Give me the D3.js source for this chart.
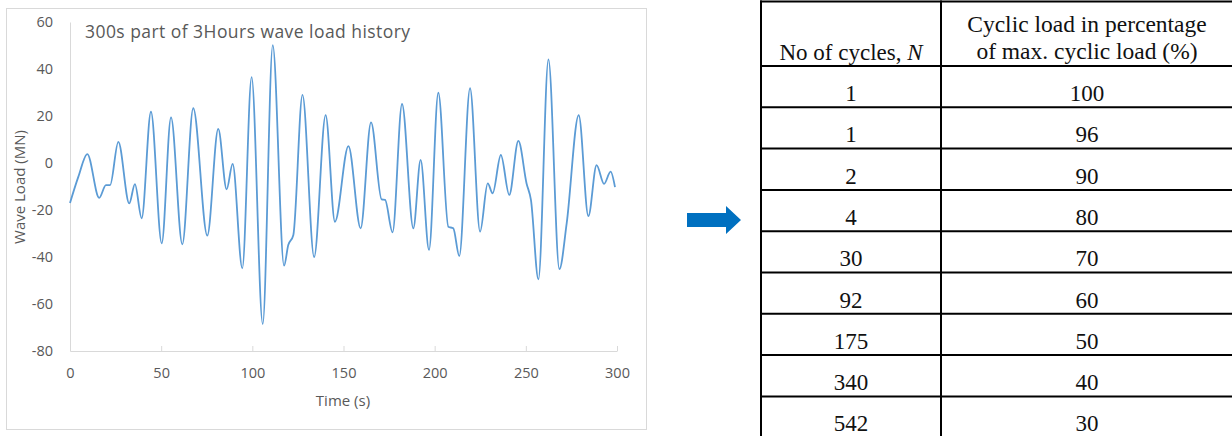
<!DOCTYPE html>
<html>
<head>
<meta charset="utf-8">
<script src="https://cdn.jsdelivr.net/npm/d3@7"></script>
<style>
  body { margin: 0; background: #fff; }
  svg { display: block; }
</style>
</head>
<body>
<script>
// wave load history (time in s, load in MN)
const time = [0, 4.6, 9.5, 16, 19.7, 22, 26.5, 32.5, 35.6, 39.3, 44.4, 50.3, 55.4, 61.6, 67.6, 75.3,
  81.3, 85.9, 89.2, 94.5, 99.6, 105.7, 111.2, 117.4, 119.7, 122.5, 127.5, 133.9, 140.2, 145.3,
  152.7, 159.4, 165.1, 170.9, 172.8, 176.9, 182.1, 188.3, 192.3, 196.9, 202, 207.5, 210.2, 213.5,
  219.4, 224.9, 229.1, 231.8, 236.3, 240.9, 245.9, 250.4, 252.8, 256.9, 262.4, 268.4, 272.4, 279,
  284.3, 288.8, 292.9, 296.5, 298.9];
const load = [-17, -5.8, 3.8, -14.8, -9.4, -9.4, 9, -17.2, -9, -23.5, 21.8, -34.2, 19.4, -34.6, 23.3, -30.9,
  14.5, -11.2, -0.4, -44.8, 36.5, -68.5, 50.2, -43.7, -34.9, -30.6, 29, -40, 20.4, -25,
  7.2, -27.8, 17.3, -15.5, -15.7, -29.5, 25.1, -27.8, 1.3, -37, 29.9, -27.1, -27.8, -39.6,
  31.8, -29.2, -8.7, -12.9, 3.4, -13.6, 9.4, -8.7, -15.7, -49.5, 44.1, -45.2, -25.7, 20.4,
  -22.6, -0.9, -8.9, -3.7, -10.3];

const xTicks = [0, 50, 100, 150, 200, 250, 300];
const yTicks = [-80, -60, -40, -20, 0, 20, 40, 60];

// cycle table
const cycles = ["1", "1", "2", "4", "30", "92", "175", "340", "542"];
const percent = ["100", "96", "90", "80", "70", "60", "50", "40", "30"];

const width = 1232, height = 436;
const svg = d3.select("body").append("svg")
  .attr("width", width)
  .attr("height", height);

const font = "'Open Sans', sans-serif";
const grey = "#595959";

// chart frame
svg.append("rect")
  .attr("x", 6.5).attr("y", 8.5)
  .attr("width", 640).attr("height", 421)
  .attr("fill", "none")
  .attr("stroke", "#d9d9d9");

const x = d3.scaleLinear().domain([0, 300]).range([70, 617]);
const y = d3.scaleLinear().domain([-80, 60]).range([351, 22]);

// y axis
const yAxis = svg.append("g")
  .attr("transform", `translate(${x(0)},0)`)
  .call(d3.axisLeft(y).tickValues(yTicks).tickSize(0).tickPadding(17).tickFormat(d => String(d)));
yAxis.select(".domain").attr("stroke", "#d9d9d9");
yAxis.selectAll("text")
  .attr("fill", grey)
  .style("font-family", font)
  .style("font-size", "14.5px");

// x axis, ticks pointing up
const xAxis = svg.append("g")
  .attr("transform", `translate(0,${y(-80)})`)
  .call(d3.axisBottom(x).tickValues(xTicks).tickSizeInner(-5).tickSizeOuter(0).tickPadding(17));
xAxis.select(".domain").attr("stroke", "#d9d9d9");
xAxis.selectAll(".tick line").attr("stroke", "#d9d9d9");
xAxis.selectAll("text")
  .attr("fill", grey)
  .style("font-family", font)
  .style("font-size", "14.5px");

svg.append("text")
  .attr("x", 343).attr("y", 406)
  .attr("text-anchor", "middle")
  .attr("fill", grey)
  .style("font-family", font)
  .style("font-size", "15px")
  .text("Time (s)");

svg.append("text")
  .attr("transform", "translate(25,187) rotate(-90)")
  .attr("text-anchor", "middle")
  .attr("fill", grey)
  .style("font-family", font)
  .style("font-size", "15px")
  .text("Wave Load (MN)");

svg.append("text")
  .attr("x", 85).attr("y", 38)
  .attr("fill", grey)
  .style("font-family", font)
  .style("font-size", "17.5px")
  .style("letter-spacing", "0.45px")
  .text("300s part of 3Hours wave load history");

const line = d3.line()
  .x(d => x(d[0]))
  .y(d => y(d[1]))
  .curve(d3.curveMonotoneX);

svg.append("path")
  .datum(d3.zip(time, load))
  .attr("d", line)
  .attr("fill", "none")
  .attr("stroke", "#5b9bd5")
  .attr("stroke-width", 1.8);

// arrow
svg.append("path")
  .attr("d", "M687,213 L726,213 L726,206 L741,220 L726,234 L726,227 L687,227 Z")
  .attr("fill", "#0070c0");

// table
const tFont = "'Liberation Serif', 'Times New Roman', serif";
const col = d3.scaleOrdinal().domain(["n", "p"]).range([851, 1087]);
const row = d3.scaleLinear().domain([0, 1]).range([66, 107.3]);
const tbl = svg.append("g");

const hLines = d3.range(cycles.length + 1).map(row);
tbl.selectAll(".hline")
  .data([1.5].concat(hLines))
  .join("line")
  .attr("x1", 760).attr("x2", 1240)
  .attr("y1", d => d).attr("y2", d => d)
  .attr("stroke", "#000").attr("stroke-width", 2);

tbl.selectAll(".vline")
  .data([761, 941])
  .join("line")
  .attr("x1", d => d).attr("x2", d => d)
  .attr("y1", 0.5).attr("y2", height)
  .attr("stroke", "#000").attr("stroke-width", 2);

const hdr = tbl.append("text")
  .attr("x", col("n")).attr("y", 60)
  .attr("text-anchor", "middle")
  .attr("fill", "#111")
  .style("font-family", tFont)
  .style("font-size", "23px");
hdr.append("tspan").text("No of cycles, ");
hdr.append("tspan").style("font-style", "italic").text("N");

tbl.selectAll(".hdr2")
  .data(["Cyclic load in percentage", "of max. cyclic load (%)"])
  .join("text")
  .attr("x", col("p"))
  .attr("y", (d, i) => 32 + i * 27)
  .attr("text-anchor", "middle")
  .attr("fill", "#111")
  .style("font-family", tFont)
  .style("font-size", "23.5px")
  .text(d => d);

cycles.forEach((c, i) => {
  [["n", c], ["p", percent[i]]].forEach(([k, v]) => {
    tbl.append("text")
      .attr("x", col(k))
      .attr("y", row(i) + 35)
      .attr("text-anchor", "middle")
      .attr("fill", "#111")
      .style("font-family", tFont)
      .style("font-size", "23px")
      .text(v);
  });
});
</script>
</body>
</html>
